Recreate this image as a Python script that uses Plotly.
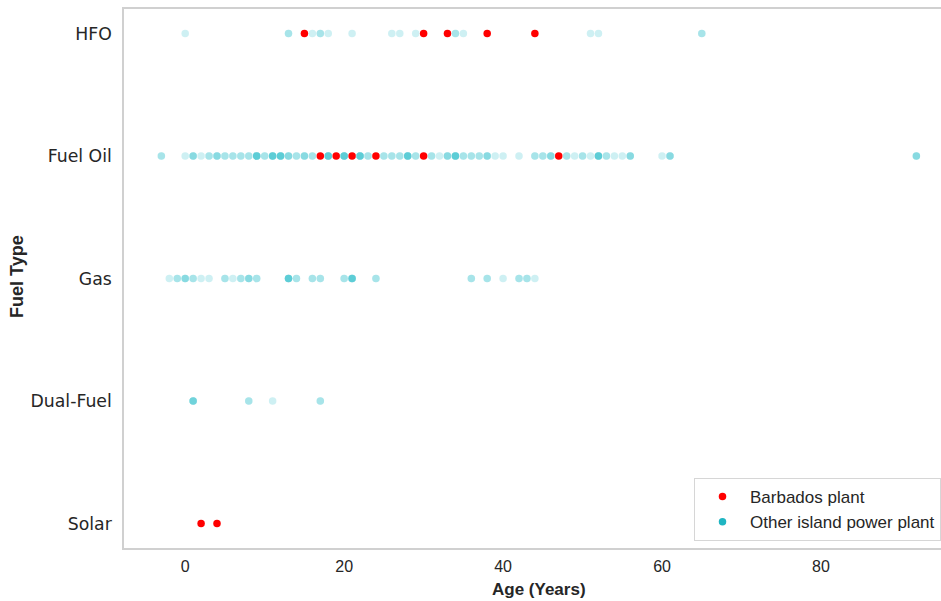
import numpy as np
import plotly.graph_objects as go

# Fuel type categories, bottom to top
fuel_types = ["Solar", "Dual-Fuel", "Gas", "Fuel Oil", "HFO"]

# Barbados plants: age (years) per fuel type
barbados_hfo = [15, 30, 33, 38, 44]
barbados_fuel_oil = [17, 19, 21, 24, 30, 47]
barbados_solar = [2, 4]

# Other island power plants: distinct ages and how many plants share each age
other_hfo_age = [0, 13, 16, 17, 18, 21, 26, 27, 29, 34, 35, 51, 52, 65]
other_hfo_n = [1, 2, 1, 2, 1, 1, 1, 1, 1, 2, 1, 1, 1, 2]

other_fuel_oil_age = [-3, 0, 1, 2, 3, 4, 5, 6, 7, 8, 9, 10, 11, 12, 13, 14, 15, 16,
                      18, 20, 22, 23, 25, 26, 27, 28, 29, 31, 32, 33, 34, 35, 36, 37,
                      38, 39, 40, 42, 44, 45, 46, 48, 49, 50, 51, 52, 53, 54, 55, 56,
                      60, 61, 92]
other_fuel_oil_n = [2, 1, 3, 1, 2, 3, 2, 2, 2, 2, 5, 2, 5, 5, 3, 2, 3, 2,
                    5, 5, 5, 2, 2, 2, 2, 5, 2, 2, 1, 3, 5, 2, 2, 2,
                    3, 1, 1, 1, 2, 2, 3, 2, 1, 2, 1, 5, 2, 1, 1, 3,
                    1, 3, 3]

other_gas_age = [-2, -1, 0, 1, 2, 3, 5, 6, 7, 8, 9, 13, 14, 16, 17, 20, 21, 24,
                 36, 38, 40, 42, 43, 44]
other_gas_n = [1, 2, 3, 2, 1, 1, 2, 1, 2, 3, 2, 5, 2, 2, 2, 2, 5, 2,
               2, 2, 1, 2, 2, 1]

other_dual_age = [1, 8, 11, 17]
other_dual_n = [4, 2, 1, 2]

RED = "#ff0000"
TEAL = "#18b8c6"
TEXT = "#262626"
FRAME = "#d0d0d0"


def expand(ages, counts):
    return list(np.repeat(ages, counts))


other_x, other_y = [], []
for ft, ages, counts in [("HFO", other_hfo_age, other_hfo_n),
                         ("Fuel Oil", other_fuel_oil_age, other_fuel_oil_n),
                         ("Gas", other_gas_age, other_gas_n),
                         ("Dual-Fuel", other_dual_age, other_dual_n)]:
    xs = expand(ages, counts)
    other_x += xs
    other_y += [ft] * len(xs)

barb_x, barb_y = [], []
for ft, ages in [("HFO", barbados_hfo), ("Fuel Oil", barbados_fuel_oil),
                 ("Solar", barbados_solar)]:
    barb_x += ages
    barb_y += [ft] * len(ages)

fig = go.Figure()

fig.add_trace(go.Scatter(
    x=other_x, y=other_y, mode="markers", showlegend=False,
    marker=dict(color=TEAL, size=7.5, opacity=0.21, line=dict(width=0)),
    hoverinfo="x+y",
))
fig.add_trace(go.Scatter(
    x=barb_x, y=barb_y, mode="markers", showlegend=False,
    marker=dict(color=RED, size=7.5, line=dict(width=0)),
    hoverinfo="x+y",
))

# Legend entries drawn with solid markers
fig.add_trace(go.Scatter(x=[None], y=[None], mode="markers", name="Barbados plant",
                         marker=dict(color=RED, size=7.5)))
fig.add_trace(go.Scatter(x=[None], y=[None], mode="markers", name="Other island power plant",
                         marker=dict(color="#1fb5c2", size=7.5)))

# Plot area spans x = 124..941 px, y = 9..548 px
PL, PR, PT, PB = 124, 941, 9, 548


def px_x(p):
    return (p - PL) / (PR - PL)


def px_y(p):
    return (PB - p) / (PB - PT)


fig.update_layout(
    width=941, height=601,
    margin=dict(l=PL, r=941 - PR, t=PT, b=601 - PB, autoexpand=False),
    plot_bgcolor="white", paper_bgcolor="white",
    font=dict(family="Liberation Sans, Arial, sans-serif", color=TEXT),
    legend=dict(
        x=px_x(694), y=px_y(541), xanchor="left", yanchor="bottom",
        bordercolor="#d6d6d6", borderwidth=1, bgcolor="white",
        font=dict(size=17, family="Liberation Sans, Arial, sans-serif", color=TEXT),
        tracegroupgap=0, itemwidth=45,
    ),
    annotations=[
        dict(text="<b>Age (Years)</b>", xref="paper", yref="paper",
             x=px_x(538.5), y=px_y(589), xanchor="center", yanchor="middle",
             showarrow=False, font=dict(size=17, family="Liberation Sans, Arial", color=TEXT)),
        dict(text="<b>Fuel Type</b>", xref="paper", yref="paper", textangle=-90,
             x=px_x(17), y=px_y(277), xanchor="center", yanchor="middle",
             showarrow=False, font=dict(size=18, family="Liberation Sans, Arial", color=TEXT)),
    ],
)

fig.update_xaxes(
    range=[-7.7, 95.1],
    tickvals=[0, 20, 40, 60, 80],
    showgrid=False, zeroline=False,
    showline=True, linecolor=FRAME, linewidth=1.5, mirror=True,
    ticks="", ticklabelstandoff=3,
    tickfont=dict(size=16, family="Liberation Sans Narrow, Liberation Sans, Arial", color=TEXT),
)
fig.update_yaxes(
    type="category", categoryorder="array", categoryarray=fuel_types,
    range=[-0.2, 4.2],
    showgrid=False, zeroline=False,
    showline=True, linecolor=FRAME, linewidth=1.5, mirror=False,
    ticks="", ticklabelstandoff=7,
    tickfont=dict(size=17.3, family="DejaVu Sans", color=TEXT),
)

fig.write_html("out.html")
